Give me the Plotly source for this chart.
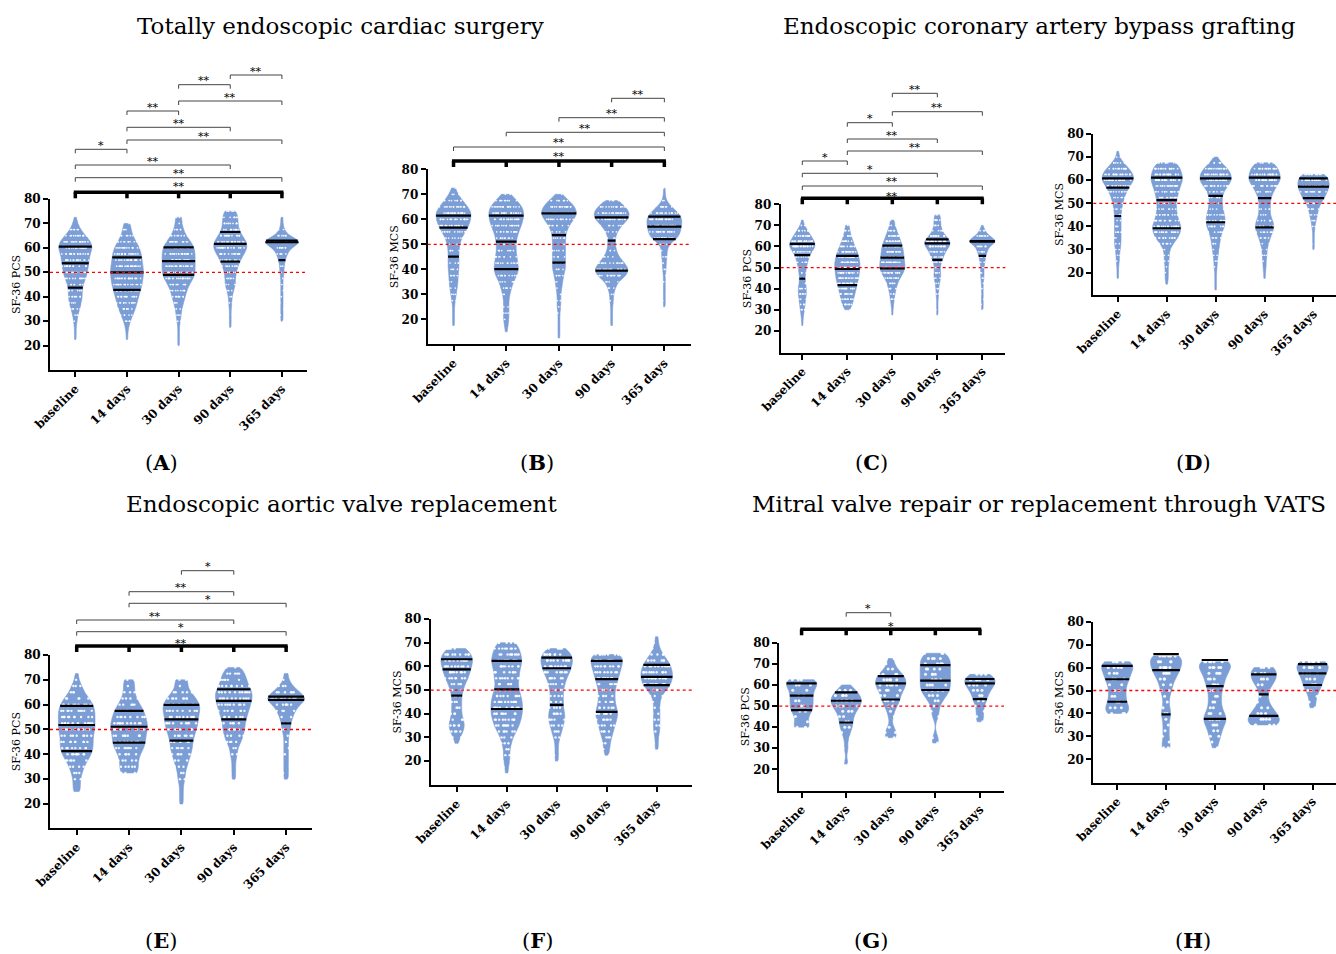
import numpy as np
import plotly.graph_objects as go

# ---------------------------------------------------------------- data
CATS = ["baseline", "14 days", "30 days", "90 days", "365 days"]
LEVELS = [12.5, 15, 17.5, 20, 22.5, 25, 27.5, 30, 32.5, 35, 37.5, 40, 42.5,
          45, 47.5, 50, 52.5, 55, 57.5, 60, 62.5, 65, 67.5, 70, 72.5, 75]

# counts of patients per score level, one list per time point
A_COUNTS = [
    [0,0,0,0,1,1,1,2,3,5,7,8,8,9,12,14,15,16,17,20,18,12,6,3,1,0],
    [0,0,0,0,1,1,2,4,7,10,12,14,16,18,19,20,19,18,17,15,11,7,5,4,0,0],
    [0,0,0,1,1,1,1,2,3,4,6,8,10,13,18,20,20,20,20,19,15,9,6,4,4,0],
    [0,0,0,0,0,0,1,1,1,1,2,2,4,6,6,7,9,12,16,20,19,14,10,9,9,7],
    [0,0,0,0,0,0,0,1,1,1,1,1,1,1,1,2,2,3,5,8,20,6,2,1,1,0],
]
A_Q1 = [43.7, 42.8, 48.9, 54.4, 55.0]
A_MED = [53.7, 50.0, 54.6, 61.6, 62.3]
A_Q3 = [60.5, 56.1, 60.2, 66.5, 63.0]
A_OVERALL = "**"
A_PAIRS = [(0, 4, "**"), (0, 3, "**"), (0, 1, "*"), (1, 4, "**"), (1, 3, "**"),
           (1, 2, "**"), (2, 4, "**"), (2, 3, "**"), (3, 4, "**")]

B_COUNTS = [
    [0,0,1,1,1,1,2,3,4,5,5,6,6,6,6,7,9,13,17,19,20,16,10,5,2,0],
    [0,1,2,3,3,3,3,4,6,8,12,14,13,12,11,11,12,14,17,19,20,18,12,5,0,0],
    [1,1,1,1,1,2,2,2,3,4,5,7,7,7,7,7,7,8,11,16,20,17,11,3,0,0],
    [0,0,1,1,1,1,2,2,4,7,16,19,14,8,5,4,4,6,11,18,20,15,7,0,0,0],
    [0,0,0,0,0,1,1,1,1,1,1,2,2,3,3,5,15,18,19,20,16,8,2,1,1,0],
]
B_Q1 = [45.1, 40.1, 42.7, 39.5, 52.1]
B_MED = [56.7, 51.1, 53.7, 51.5, 57.1]
B_Q3 = [61.5, 61.5, 62.4, 60.8, 61.1]
B_OVERALL = "**"
B_PAIRS = [(0, 4, "**"), (1, 4, "**"), (2, 4, "**"), (3, 4, "**")]

C_COUNTS = [
    [0,0,0,0,1,1,2,3,4,5,6,6,5,4,5,6,8,10,14,20,18,13,8,3,1,0],
    [0,0,0,0,0,0,0,4,8,10,12,14,16,18,19,20,20,18,16,12,9,6,4,3,0,0],
    [0,0,0,0,0,0,1,1,2,3,4,6,8,12,17,20,19,18,17,16,13,10,7,4,3,0],
    [0,0,0,0,0,0,1,1,1,1,2,2,3,5,5,4,6,9,12,18,20,12,7,5,5,4],
    [0,0,0,0,0,0,0,1,1,1,1,1,1,2,2,2,3,4,6,8,20,8,3,1,0,0],
]
C_Q1 = [44.7, 41.7, 49.6, 53.6, 55.5]
C_MED = [55.9, 49.3, 54.7, 61.5, 62.3]
C_Q3 = [61.2, 55.5, 60.4, 63.4, 62.6]
C_OVERALL = "**"
C_PAIRS = [(0, 4, "**"), (0, 3, "*"), (0, 1, "*"), (1, 4, "**"), (1, 3, "**"),
           (1, 2, "*"), (2, 4, "**"), (2, 3, "**")]

D_COUNTS = [
    [0,0,1,1,1,2,2,3,4,4,4,4,4,4,5,6,8,11,15,20,19,14,7,2,1,0],
    [0,1,2,2,2,3,3,4,8,14,17,18,15,13,12,12,13,15,17,20,19,17,12,0,0,0],
    [1,1,1,1,2,2,3,4,5,6,8,11,12,11,9,8,8,10,15,20,19,15,7,2,0,0],
    [0,0,1,1,2,2,3,3,5,7,10,12,10,7,7,7,8,11,15,20,19,17,11,0,0,0],
    [0,0,0,0,0,0,0,1,1,1,1,2,3,5,6,9,14,17,20,19,16,0,0,0,0,0],
]
D_Q1 = [44.5, 39.2, 41.8, 39.6, 52.2]
D_MED = [56.8, 51.4, 53.2, 52.2, 57.2]
D_Q3 = [60.8, 61.1, 60.8, 61.1, 60.8]

E_COUNTS = [
    [0,0,0,0,0,2,2,2,3,4,6,8,9,9,9,10,10,10,10,9,7,4,3,1,1,0],
    [0,0,0,0,0,0,0,0,5,5,5,6,8,9,9,10,10,9,8,6,4,3,3,3,0,0],
    [0,0,0,1,1,1,1,2,2,3,4,5,6,6,7,8,9,9,10,10,8,5,3,4,0,0],
    [0,0,0,0,0,0,0,1,1,1,1,2,2,4,5,6,6,7,8,9,10,10,8,7,6,4],
    [0,0,0,0,0,0,0,1,1,1,1,1,1,1,1,2,2,3,4,6,10,6,3,1,1,0],
]
E_Q1 = [41.3, 44.7, 45.5, 54.1, 52.5]
E_MED = [51.8, 51.1, 54.1, 61.5, 61.9]
E_Q3 = [59.5, 57.5, 59.9, 66.2, 63.2]
E_OVERALL = "**"
E_PAIRS = [(0, 4, "*"), (0, 3, "**"), (1, 4, "*"), (1, 3, "**"), (2, 3, "*")]

F_COUNTS = [
    [0,0,0,0,0,0,1,2,4,5,4,3,3,3,3,4,5,7,8,9,10,9,6,0,0,0],
    [0,1,1,2,2,2,3,4,6,8,9,10,10,10,9,8,7,8,8,9,10,9,8,6,0,0],
    [0,0,0,1,1,1,1,2,3,4,5,5,4,4,4,4,5,6,8,9,10,9,6,0,0,0],
    [0,0,0,0,1,2,2,3,4,5,6,7,6,5,5,5,6,7,8,9,10,9,0,0,0,0],
    [0,0,0,0,0,1,1,1,2,2,2,2,2,2,3,6,9,10,10,9,7,4,2,1,1,0],
]
F_Q1 = [47.6, 42.0, 43.7, 40.8, 52.1]
F_MED = [58.7, 50.3, 59.2, 54.6, 55.6]
F_Q3 = [63.0, 62.3, 63.7, 62.3, 60.6]

G_COUNTS = [
    [0,0,0,0,0,0,0,0,0,0,0,2,1,1,2,2,2,2,2,3,3,0,0,0,0,0],
    [0,0,0,0,1,0,0,1,0,1,1,2,2,2,3,4,5,4,3,1,0,0,0,0,0,0],
    [0,0,0,0,0,0,0,0,0,2,2,1,0,1,1,2,3,3,4,5,5,4,2,1,1,0],
    [0,0,0,0,0,0,0,0,1,1,0,0,0,1,1,1,2,3,4,4,4,4,4,4,4,3],
    [0,0,0,0,0,0,0,0,0,0,0,0,1,1,1,1,2,2,3,4,5,3,0,0,0,0],
]
G_Q1 = [48.1, 42.2, 53.1, 57.6, 53.3]
G_MED = [54.9, 52.5, 60.7, 62.0, 60.7]
G_Q3 = [60.7, 56.5, 64.2, 69.4, 62.8]
G_OVERALL = "*"
G_PAIRS = [(1, 2, "*")]

H_COUNTS = [
    [0,0,0,0,0,0,0,0,0,0,0,3,3,2,2,2,2,3,3,4,4,0,0,0,0,0],
    [0,0,0,0,0,2,1,1,1,1,1,2,1,1,1,2,2,3,4,5,5,6,0,0,0,0],
    [0,0,0,0,0,1,1,2,2,3,4,3,2,2,2,2,3,3,4,5,6,0,0,0,0,0],
    [0,0,0,0,0,0,0,0,0,4,4,3,2,1,1,1,2,3,3,3,0,0,0,0,0,0],
    [0,0,0,0,0,0,0,0,0,0,0,0,1,1,1,2,3,3,4,5,5,0,0,0,0,0],
]
H_Q1 = [45.1, 39.6, 37.6, 38.9, 52.4]
H_MED = [54.9, 58.9, 51.9, 48.3, 57.5]
H_Q3 = [60.7, 65.9, 63.3, 57.0, 61.5]

REFERENCE_SCORE = 50
Y_TICKS = [20, 30, 40, 50, 60, 70, 80]

GROUP_TITLES = ["Totally endoscopic cardiac surgery",
                "Endoscopic coronary artery bypass grafting",
                "Endoscopic aortic valve replacement",
                "Mitral valve repair or replacement through VATS"]

# ---------------------------------------------------------------- layout / style
FIG_W, FIG_H = 1336, 954
BLUE = "rgb(124,158,214)"
SERIF = "DejaVu Serif"

# px boxes: left, top, right, bottom ; x-range ; y-min ; bandwidth ; violin width ; dot size
PANELS = [
    dict(key="A", counts=A_COUNTS, q1=A_Q1, med=A_MED, q3=A_Q3, ytitle="SF-36 PCS",
         overall=A_OVERALL, pairs=A_PAIRS, overall_h=6.7, overall_star=9,
         pair_h=[21.3, 34, 49.7, 59, 71.7, 88, 98, 114.3, 124],
         box=(50, 199, 306.7, 370), xr=(-0.49, 4.48), ymin=10.0, bw=1.6, w=0.64, ds=1.7),
    dict(key="B", counts=B_COUNTS, q1=B_Q1, med=B_MED, q3=B_Q3, ytitle="SF-36 MCS",
         overall=B_OVERALL, pairs=B_PAIRS, overall_h=8.3, overall_star=7.7,
         pair_h=[22.3, 37, 51.6, 71],
         box=(427.7, 169.3, 690.7, 344.3), xr=(-0.49, 4.5), ymin=10.0, bw=1.6, w=0.66, ds=1.7),
    dict(key="C", counts=C_COUNTS, q1=C_Q1, med=C_MED, q3=C_Q3, ytitle="SF-36 PCS",
         overall=C_OVERALL, pairs=C_PAIRS, overall_h=6.0, overall_star=5,
         pair_h=[18.3, 31, 43.3, 53.3, 65.3, 81.6, 92.6, 111],
         box=(780.7, 204.3, 1005.3, 352.7), xr=(-0.48, 4.51), ymin=9.6, bw=1.6, w=0.56, ds=1.7),
    dict(key="D", counts=D_COUNTS, q1=D_Q1, med=D_MED, q3=D_Q3, ytitle="SF-36 MCS",
         overall=None, pairs=[], overall_h=0, overall_star=0, pair_h=[],
         box=(1093.3, 134, 1336, 295), xr=(-0.5, 4.46), ymin=10.3, bw=1.6, w=0.64, ds=1.7),
    dict(key="E", counts=E_COUNTS, q1=E_Q1, med=E_MED, q3=E_Q3, ytitle="SF-36 PCS",
         overall=E_OVERALL, pairs=E_PAIRS, overall_h=9.0, overall_star=5.3,
         pair_h=[23.3, 35, 51.7, 63.3, 84.3],
         box=(50, 655, 312.3, 828.3), xr=(-0.51, 4.5), ymin=10.2, bw=1.8, w=0.70, ds=2.4),
    dict(key="F", counts=F_COUNTS, q1=F_Q1, med=F_MED, q3=F_Q3, ytitle="SF-36 MCS",
         overall=None, pairs=[], overall_h=0, overall_star=0, pair_h=[],
         box=(430.7, 619, 691.7, 785), xr=(-0.52, 4.7), ymin=9.9, bw=1.8, w=0.63, ds=2.4),
    dict(key="G", counts=G_COUNTS, q1=G_Q1, med=G_MED, q3=G_Q3, ytitle="SF-36 PCS",
         overall=G_OVERALL, pairs=G_PAIRS, overall_h=13.4, overall_star=6, pair_h=[30],
         box=(779.3, 642.7, 1004, 790.7), xr=(-0.5, 4.54), ymin=9.9, bw=2.2, w=0.68, ds=3.0),
    dict(key="H", counts=H_COUNTS, q1=H_Q1, med=H_MED, q3=H_Q3, ytitle="SF-36 MCS",
         overall=None, pairs=[], overall_h=0, overall_star=0, pair_h=[],
         box=(1093.3, 621.7, 1336, 782.7), xr=(-0.49, 4.48), ymin=9.8, bw=2.2, w=0.64, ds=3.0),
]

TITLE_POS = [(340, 26), (1039, 26), (341, 504), (1039, 504)]
LABEL_POS = [(161, 462), (537, 462), (871, 462), (1193, 462),
             (161, 940), (537, 940), (871, 940), (1193, 940)]
PAIR_STAR_PX = 7.0   # centre of the asterisks above a thin bracket


def kde_halfwidth(sample, bw, width, q):
    """Half width of a plotly violin (scalemode='width') at value q."""
    s = np.asarray(sample, dtype=float)
    lo, hi = s.min(), s.max()
    n = int(np.ceil((hi - lo) / (bw / 3.0)))
    grid = np.linspace(lo, hi, n + 1)

    def k(t):
        return np.exp(-0.5 * ((t - s) / bw) ** 2).sum()

    mx = max(k(t) for t in grid)
    qq = min(max(q, lo), hi)
    return width / 2.0 * k(qq) / mx


fig = go.Figure()
layout_axes = {}
shapes = []
annotations = []

for n, p in enumerate(PANELS, start=1):
    xa = "x" if n == 1 else f"x{n}"
    ya = "y" if n == 1 else f"y{n}"
    l, t, r, b = p["box"]
    hpx = b - t

    qx, qy = [], []
    for i, cnt in enumerate(p["counts"]):
        sample = np.repeat(np.array(LEVELS), cnt)
        fig.add_trace(go.Violin(
            x0=i, y=sample, xaxis=xa, yaxis=ya, name=CATS[i],
            width=p["w"], bandwidth=p["bw"], spanmode="hard", scalemode="width",
            fillcolor=BLUE, line=dict(color=BLUE, width=0.6), opacity=1,
            points="all", pointpos=0, jitter=0.85,
            marker=dict(color="white", size=p["ds"], opacity=0.9, line=dict(width=0)),
            box_visible=False, meanline_visible=False, showlegend=False,
            hoverinfo="skip"))
        for q in (p["q1"][i], p["med"][i], p["q3"][i]):
            hw = kde_halfwidth(sample, p["bw"], p["w"], q)
            qx += [i - hw, i + hw, None]
            qy += [q, q, None]
    fig.add_trace(go.Scatter(x=qx, y=qy, xaxis=xa, yaxis=ya, mode="lines",
                             line=dict(color="black", width=2.2),
                             showlegend=False, hoverinfo="skip"))

    layout_axes["xaxis" if n == 1 else f"xaxis{n}"] = dict(
        domain=[l / FIG_W, min(r / FIG_W, 1.0)], range=list(p["xr"]), anchor=ya,
        type="linear", tickmode="array", tickvals=list(range(5)), ticktext=CATS,
        tickangle=-45, ticks="outside", ticklen=5, tickwidth=2, tickcolor="black",
        showline=True, linecolor="black", linewidth=2, showgrid=False,
        zeroline=False, automargin=False,
        tickfont=dict(family=SERIF, size=12, color="black", weight="bold"))
    layout_axes["yaxis" if n == 1 else f"yaxis{n}"] = dict(
        domain=[1 - b / FIG_H, 1 - t / FIG_H], range=[p["ymin"], 80], anchor=xa,
        tickmode="array", tickvals=Y_TICKS, ticks="outside", ticklen=5,
        tickwidth=2, tickcolor="black", showline=True, linecolor="black",
        linewidth=2, showgrid=False, zeroline=False, automargin=False,
        tickfont=dict(family=SERIF, size=12, color="black", weight="bold"),
        title=dict(text=p["ytitle"], standoff=1,
                   font=dict(family=SERIF, size=11, color="black")))

    # reference line at 50
    shapes.append(dict(type="line", xref=f"{xa} domain", yref=ya, x0=0, x1=1,
                       y0=REFERENCE_SCORE, y1=REFERENCE_SCORE, layer="above",
                       line=dict(color="#ff0000", width=1.3, dash="dot")))

    yd = f"{ya} domain"
    # overall (thick) bracket
    if p["overall"]:
        yl = 1 + p["overall_h"] / hpx
        leg = 6 / hpx
        shapes.append(dict(type="line", xref=xa, yref=yd, x0=-0.03, x1=4.03, y0=yl, y1=yl,
                           line=dict(color="black", width=3.5)))
        for i in range(5):
            shapes.append(dict(type="line", xref=xa, yref=yd, x0=i, x1=i, y0=yl, y1=yl - leg,
                               line=dict(color="black", width=3.5)))
        annotations.append(dict(x=2, y=yl + p["overall_star"] / hpx, xref=xa, yref=yd,
                                text=p["overall"], showarrow=False, yanchor="middle",
                                yshift=-3,
                                font=dict(family=SERIF, size=11, color="black")))
    for (i, j, lab), h in zip(p["pairs"], p["pair_h"]):
        yl = 1 + h / hpx
        leg = 4 / hpx
        col = "#444444"
        shapes.append(dict(type="line", xref=xa, yref=yd, x0=i, x1=j, y0=yl, y1=yl,
                           line=dict(color=col, width=1)))
        for xx in (i, j):
            shapes.append(dict(type="line", xref=xa, yref=yd, x0=xx, x1=xx, y0=yl,
                               y1=yl - leg, line=dict(color=col, width=1)))
        annotations.append(dict(x=(i + j) / 2, y=yl + PAIR_STAR_PX / hpx, xref=xa, yref=yd,
                                text=lab, showarrow=False, yanchor="middle", yshift=-3,
                                font=dict(family=SERIF, size=11, color="black")))

for txt, (px, py) in zip(GROUP_TITLES, TITLE_POS):
    annotations.append(dict(x=px / FIG_W, y=1 - py / FIG_H, xref="paper", yref="paper",
                            text=txt, showarrow=False, xanchor="center", yanchor="middle",
                            font=dict(family=SERIF, size=23, color="black")))
for p, (px, py) in zip(PANELS, LABEL_POS):
    annotations.append(dict(x=px / FIG_W, y=1 - py / FIG_H, xref="paper", yref="paper",
                            text=f"(<b>{p['key']}</b>)", showarrow=False,
                            xanchor="center", yanchor="middle",
                            font=dict(family=SERIF, size=21, color="black")))

fig.update_layout(
    width=FIG_W, height=FIG_H, margin=dict(l=0, r=0, t=0, b=0),
    paper_bgcolor="white", plot_bgcolor="rgba(0,0,0,0)",
    showlegend=False, shapes=shapes, annotations=annotations,
    font=dict(family=SERIF, color="black"),
    **layout_axes)

fig.write_html("out.html",
               config={"displayModeBar": False},
               post_script="document.body.style.margin='0px';"
                           "document.body.style.overflow='hidden';")
